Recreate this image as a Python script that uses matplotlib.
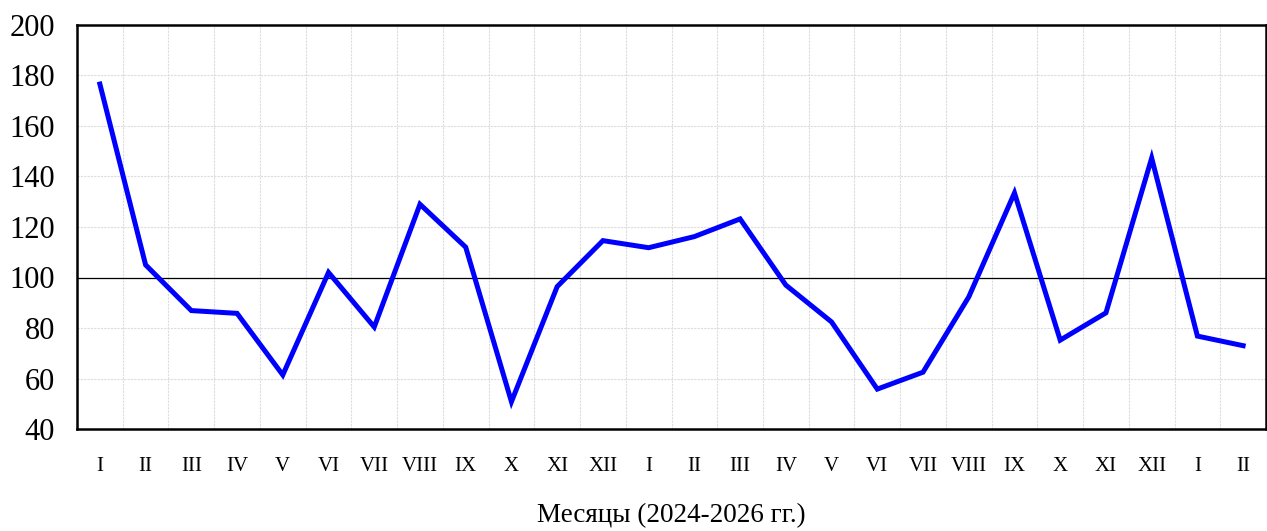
import matplotlib
matplotlib.use('Agg')
import matplotlib.pyplot as plt
import numpy as np

# Monthly index values, Jan 2024 .. Feb 2026
months = ['I', 'II', 'III', 'IV', 'V', 'VI', 'VII', 'VIII', 'IX', 'X', 'XI', 'XII',
          'I', 'II', 'III', 'IV', 'V', 'VI', 'VII', 'VIII', 'IX', 'X', 'XI', 'XII',
          'I', 'II']
values = [176.6, 105.0, 86.9, 85.8, 61.4, 102.0, 80.4, 129.0, 112.0, 50.8, 96.4, 114.6,
          111.8, 116.2, 123.2, 97.0, 82.4, 55.8, 62.5, 92.3, 133.5, 75.2, 86.0, 147.3,
          76.8, 73.0]

plt.rcParams['font.family'] = ['Liberation Serif', 'DejaVu Serif']

fig = plt.figure(figsize=(12.67, 5.31), dpi=100)
ax = fig.add_axes([77 / 1267, 1 - 429 / 531, (1266 - 77) / 1267, (429 - 25) / 531])

x = np.arange(len(values))
ax.plot(x, values, color='#0000ff', lw=3.6, solid_joinstyle='miter', zorder=3)
ax.axhline(100, color='black', lw=0.9, zorder=2)

ax.set_xlim(-0.5, len(values) - 0.5)
ax.set_ylim(40, 200)
ax.set_yticks(np.arange(40, 201, 20))
ax.set_xticks(x)
ax.set_xticklabels(months, fontsize=15)
ax.tick_params(axis='y', labelsize=22, length=0, pad=16)
ax.tick_params(axis='x', length=0, pad=20)

# vertical grid between categories, horizontal grid at ticks
ax.set_xticks(np.arange(-0.5, len(values), 1), minor=True)
ax.tick_params(axis='x', which='minor', length=0)
ax.grid(axis='x', which='minor', color='#dcdcdc', lw=0.8, ls=(0, (2, 1)))
ax.grid(axis='y', which='major', color='#dcdcdc', lw=0.8, ls=(0, (2, 1)))
ax.set_axisbelow(True)

for s in ax.spines.values():
    s.set_linewidth(1.8)
    s.set_color('black')

ax.set_xlabel('Месяцы (2024-2026 гг.)', fontsize=19.5, labelpad=20)

fig.savefig('out.png', dpi=100)
